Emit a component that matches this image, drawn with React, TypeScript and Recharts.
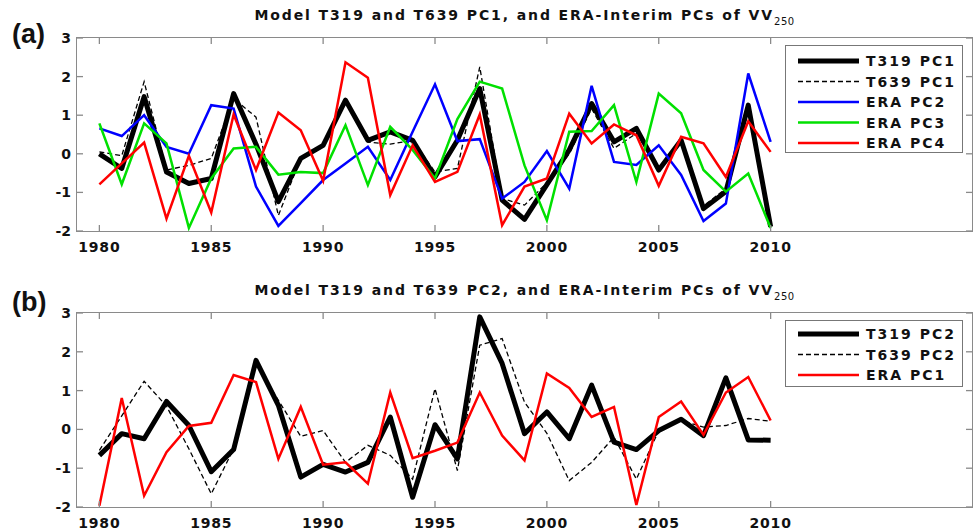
import React from "react";
import { Line, LineChart, XAxis, YAxis } from "recharts";

const years = [
  1980, 1981, 1982, 1983, 1984, 1985, 1986, 1987, 1988, 1989, 1990, 1991, 1992, 1993, 1994, 1995,
  1996, 1997, 1998, 1999, 2000, 2001, 2002, 2003, 2004, 2005, 2006, 2007, 2008, 2009, 2010,
];
const xTicks = [1980, 1985, 1990, 1995, 2000, 2005, 2010];
const yTicks = [-2, -1, 0, 1, 2, 3];

// panel (a)
const t319pc1 = [0.0, -0.38, 1.48, -0.47, -0.77, -0.64, 1.56, 0.25, -1.24, -0.12, 0.22, 1.39, 0.35, 0.57, 0.35, -0.6, 0.35, 1.69, -1.2, -1.7, -0.8, 0.1, 1.3, 0.31, 0.66, -0.42, 0.35, -1.42, -0.98, 1.26, -1.89];
const t639pc1 = [0.05, -0.05, 1.87, -0.42, -0.3, -0.12, 1.43, 0.95, -1.6, -0.1, 0.2, 1.4, 0.3, 0.25, 0.35, -0.47, -0.38, 2.25, -1.16, -1.33, -0.75, 0.0, 1.17, 0.14, 0.53, -0.4, 0.35, -1.35, -0.9, 1.1, -1.9];
const eraPc2 = [0.66, 0.46, 1.0, 0.18, 0.0, 1.26, 1.17, -0.85, -1.87, -1.28, -0.68, -0.25, 0.18, -0.68, 0.57, 1.8, 0.33, 0.38, -1.16, -0.73, 0.07, -0.9, 1.76, -0.21, -0.29, 0.22, -0.55, -1.74, -1.29, 2.08, 0.31];
const eraPc3 = [0.79, -0.79, 0.79, 0.27, -1.92, -0.64, 0.14, 0.18, -0.54, -0.47, -0.5, 0.74, -0.81, 0.7, 0.1, -0.64, 0.9, 1.87, 1.69, -0.3, -1.72, 0.57, 0.59, 1.26, -0.73, 1.56, 1.05, -0.42, -0.98, -0.51, -1.92];
const eraPc4 = [-0.79, -0.25, 0.29, -1.68, -0.05, -1.52, 1.02, -0.42, 1.07, 0.61, -0.7, 2.37, 1.97, -1.07, 0.22, -0.73, -0.47, 1.02, -1.85, -0.85, -0.64, 1.04, 0.27, 0.76, 0.48, -0.83, 0.44, 0.27, -0.6, 0.84, 0.05];

// panel (b)
const t319pc2 = [-0.67, -0.11, -0.24, 0.72, 0.1, -1.09, -0.52, 1.78, 0.62, -1.23, -0.9, -1.1, -0.85, 0.32, -1.75, 0.12, -0.76, 2.9, 1.7, -0.11, 0.45, -0.24, 1.14, -0.33, -0.52, -0.03, 0.26, -0.16, 1.33, -0.27, -0.28];
const t639pc2 = [-0.54, 0.35, 1.24, 0.6, -0.5, -1.66, -0.5, 1.7, 0.75, -0.18, -0.03, -0.85, -0.41, -0.67, -1.28, 1.05, -1.06, 2.17, 2.34, 0.7, -0.1, -1.32, -0.85, -0.2, -1.28, -0.03, 0.23, 0.06, 0.1, 0.28, 0.21];
const eraPc1 = [-1.97, 0.81, -1.71, -0.59, 0.09, 0.17, 1.4, 1.22, -0.76, 0.58, -0.91, -0.85, -1.4, 0.95, -0.74, -0.55, -0.34, 0.95, -0.16, -0.8, 1.44, 1.07, 0.32, 0.58, -1.95, 0.32, 0.72, -0.14, 0.95, 1.35, 0.23];

const dataA = years.map((y, i) => ({ year: y, t319: t319pc1[i], t639: t639pc1[i], pc2: eraPc2[i], pc3: eraPc3[i], pc4: eraPc4[i] }));
const dataB = years.map((y, i) => ({ year: y, t319: t319pc2[i], t639: t639pc2[i], pc1: eraPc1[i] }));

const FONT = "'DejaVu Sans', sans-serif";
const FRAME = "#8a8a8a";
const PLOT_W = 895;
const TICK = 6;

type Item = { name: string; color: string; width: number; dash?: string };

const legendA: Item[] = [
  { name: "T319 PC1", color: "#000", width: 5 },
  { name: "T639 PC1", color: "#000", width: 1.3, dash: "5 3" },
  { name: "ERA PC2", color: "#0000ff", width: 2.5 },
  { name: "ERA PC3", color: "#00e000", width: 2.5 },
  { name: "ERA PC4", color: "#ff0000", width: 2.5 },
];
const legendB: Item[] = [
  { name: "T319 PC2", color: "#000", width: 5 },
  { name: "T639 PC2", color: "#000", width: 1.3, dash: "5 3" },
  { name: "ERA PC1", color: "#ff0000", width: 2.5 },
];

function LegendBox({ items, top, height, rowGap, first }: { items: Item[]; top: number; height: number; rowGap: number; first: number }) {
  return (
    <div style={{ position: "absolute", left: 785, top, width: 176, height, border: "1.5px solid #777", background: "#fff" }}>
      <svg width={176} height={height} style={{ display: "block" }}>
        {items.map((it, i) => {
          const y = first + i * rowGap;
          return (
            <g key={it.name}>
              <line x1={12} x2={73} y1={y} y2={y} stroke={it.color} strokeWidth={it.width} strokeDasharray={it.dash} />
              <text x={80} y={y + 5} fontFamily={FONT} fontWeight="bold" fontSize={14} letterSpacing={2} fill="#111">
                {it.name}
              </text>
            </g>
          );
        })}
      </svg>
    </div>
  );
}

const bottomTick = (plotH: number) => (p: any) => (
  <g>
    <line x1={p.x} x2={p.x} y1={p.y} y2={p.y - TICK} stroke={FRAME} strokeWidth={1.3} />
    <line x1={p.x} x2={p.x} y1={p.y - plotH} y2={p.y - plotH + TICK} stroke={FRAME} strokeWidth={1.3} />
    <text x={p.x} y={p.y + 21} textAnchor="middle" fontFamily={FONT} fontWeight="bold" fontSize={14} letterSpacing={0.8} fill="#111">
      {p.payload.value}
    </text>
  </g>
);

const leftTick = (p: any) => (
  <g>
    <line x1={p.x} x2={p.x + TICK} y1={p.y} y2={p.y} stroke={FRAME} strokeWidth={1.3} />
    <line x1={p.x + PLOT_W} x2={p.x + PLOT_W - TICK} y1={p.y} y2={p.y} stroke={FRAME} strokeWidth={1.3} />
    <text x={p.x - 6} y={p.y + 5} textAnchor="end" fontFamily={FONT} fontWeight="bold" fontSize={14} fill="#111">
      {p.payload.value}
    </text>
  </g>
);

function Title({ top, pc }: { top: number; pc: string }) {
  return (
    <div style={{ position: "absolute", left: 77, width: 895, top, textAlign: "center", fontFamily: FONT, fontWeight: "bold", fontSize: 14, letterSpacing: 1.9, color: "#111", whiteSpace: "nowrap" }}>
      Model T319 and T639 {pc}, and ERA-Interim PCs of VV
      <span style={{ fontSize: 10, position: "relative", top: 5, letterSpacing: 0.5, fontWeight: "normal" }}>250</span>
    </div>
  );
}

function PanelLabel({ top, text }: { top: number; text: string }) {
  return (
    <div style={{ position: "absolute", left: 12, top, fontFamily: "'Liberation Sans', Arial, sans-serif", fontWeight: "bold", fontSize: 27, color: "#111" }}>
      {text}
    </div>
  );
}

function Frame({ top, height }: { top: number; height: number }) {
  return <div style={{ position: "absolute", left: 76, top: top - 1, width: PLOT_W, height, border: `1.5px solid ${FRAME}`, pointerEvents: "none" }} />;
}

export default function App() {
  return (
    <div style={{ position: "absolute", left: 0, top: 0, width: 974, height: 531, background: "#fff", overflow: "hidden" }}>
      <div style={{ position: "absolute", left: 0, top: 0 }}>
        <LineChart width={974} height={260} data={dataA} margin={{ top: 38, right: 2, bottom: 0, left: 0 }}>
          <XAxis dataKey="year" type="number" domain={[1979, 2019]} ticks={xTicks} height={29} tickSize={0} tickMargin={0} axisLine={false} tickLine={false} tick={bottomTick(193)} interval={0} />
          <YAxis type="number" domain={[-2, 3]} ticks={yTicks} width={77} tickSize={0} tickMargin={0} axisLine={false} tickLine={false} tick={leftTick} interval={0} allowDataOverflow />
          <Line dataKey="t319" stroke="#000" strokeWidth={5} dot={false} isAnimationActive={false} strokeLinejoin="round" />
          <Line dataKey="t639" stroke="#000" strokeWidth={1.3} strokeDasharray="5 3" dot={false} isAnimationActive={false} />
          <Line dataKey="pc2" stroke="#0000ff" strokeWidth={2.5} dot={false} isAnimationActive={false} />
          <Line dataKey="pc3" stroke="#00e000" strokeWidth={2.5} dot={false} isAnimationActive={false} />
          <Line dataKey="pc4" stroke="#ff0000" strokeWidth={2.5} dot={false} isAnimationActive={false} />
        </LineChart>
      </div>
      <div style={{ position: "absolute", left: 0, top: 260 }}>
        <LineChart width={974} height={271} data={dataB} margin={{ top: 53, right: 2, bottom: 0, left: 0 }}>
          <XAxis dataKey="year" type="number" domain={[1979, 2019]} ticks={xTicks} height={24} tickSize={0} tickMargin={0} axisLine={false} tickLine={false} tick={bottomTick(194)} interval={0} />
          <YAxis type="number" domain={[-2, 3]} ticks={yTicks} width={77} tickSize={0} tickMargin={0} axisLine={false} tickLine={false} tick={leftTick} interval={0} allowDataOverflow />
          <Line dataKey="t319" stroke="#000" strokeWidth={5} dot={false} isAnimationActive={false} strokeLinejoin="round" />
          <Line dataKey="t639" stroke="#000" strokeWidth={1.3} strokeDasharray="5 3" dot={false} isAnimationActive={false} />
          <Line dataKey="pc1" stroke="#ff0000" strokeWidth={2.5} dot={false} isAnimationActive={false} />
        </LineChart>
      </div>
      <Frame top={38} height={193} />
      <Frame top={313} height={194} />
      <LegendBox items={legendA} top={45} height={106} rowGap={20.5} first={15} />
      <LegendBox items={legendB} top={320} height={65} rowGap={20.5} first={13} />
      <Title top={7} pc="PC1" />
      <Title top={282} pc="PC2" />
      <PanelLabel top={19} text="(a)" />
      <PanelLabel top={287} text="(b)" />
    </div>
  );
}
